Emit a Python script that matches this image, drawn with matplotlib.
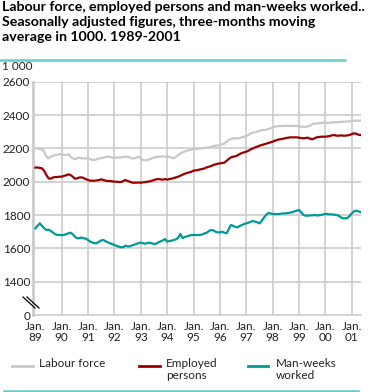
import numpy as np
import matplotlib
matplotlib.use("Agg")
import matplotlib.pyplot as plt
from matplotlib.lines import Line2D

plt.rcParams['font.family'] = ['Lato', 'DejaVu Sans']

# monthly values, Jan 1989 - May 2001 (in 1000)
labour_force = [
    2200, 2200, 2195, 2195, 2180, 2150, 2140, 2150, 2155, 2160, 2160, 2165,
    2165, 2160, 2160, 2165, 2150, 2140, 2135, 2140, 2145, 2140, 2140, 2140,
    2140, 2135, 2130, 2130, 2135, 2140, 2140, 2145, 2148, 2150, 2148, 2145,
    2145, 2145, 2145, 2145, 2148, 2150, 2148, 2145, 2140, 2140, 2145, 2150,
    2140, 2130, 2128, 2130, 2135, 2140, 2145, 2148, 2150, 2150, 2152, 2150,
    2150, 2148, 2145, 2140, 2150, 2160, 2170, 2176, 2182, 2186, 2190, 2192,
    2194, 2196, 2198, 2200, 2200, 2202, 2204, 2206, 2210, 2214, 2216, 2218,
    2220, 2224, 2228, 2240, 2250, 2256, 2260, 2260, 2260, 2262, 2266, 2270,
    2274, 2280, 2290, 2294, 2296, 2300, 2306, 2308, 2310, 2312, 2316, 2320,
    2326, 2330, 2332, 2334, 2334, 2334, 2336, 2334, 2334, 2334, 2336, 2334,
    2332, 2330, 2330, 2328, 2332, 2336, 2346, 2348, 2350, 2350, 2352, 2354,
    2354, 2352, 2354, 2356, 2356, 2356, 2358, 2358, 2360, 2360, 2362, 2362,
    2364, 2366, 2366, 2366, 2366,
]
employed = [
    2085, 2085, 2083, 2080, 2065, 2040, 2020, 2018, 2025, 2028, 2028, 2030,
    2030, 2035, 2038, 2044, 2040, 2030, 2018, 2020, 2025, 2026, 2022, 2015,
    2010, 2006, 2006, 2006, 2008, 2010, 2014, 2010, 2006, 2004, 2004, 2002,
    2000, 2000, 1998, 1998, 2004, 2010, 2004, 2000, 1994, 1994, 1994, 1995,
    1994, 1996, 1998, 2000, 2002, 2005, 2010, 2014, 2016, 2014, 2012, 2016,
    2012, 2016, 2018, 2022, 2026, 2030, 2036, 2042, 2048, 2052, 2056, 2060,
    2066, 2068, 2070, 2074, 2076, 2080, 2086, 2090, 2094, 2100, 2104, 2108,
    2110, 2112, 2114, 2125, 2136, 2146, 2150, 2152, 2158, 2166, 2172, 2176,
    2180, 2186, 2194, 2200, 2206, 2210, 2216, 2220, 2224, 2228, 2232, 2236,
    2240, 2246, 2250, 2254, 2256, 2258, 2262, 2264, 2266, 2266, 2266, 2266,
    2264, 2262, 2260, 2262, 2264, 2258, 2254, 2260, 2266, 2268, 2270, 2270,
    2270, 2272, 2274, 2278, 2280, 2276, 2276, 2278, 2276, 2276, 2278, 2280,
    2286, 2290, 2288, 2282, 2280,
]
man_weeks = [
    1720, 1735, 1750, 1735, 1720, 1710, 1712, 1705, 1695, 1685, 1680, 1680,
    1680, 1680, 1685, 1690, 1694, 1685, 1670, 1660, 1662, 1665, 1660, 1658,
    1650, 1640, 1635, 1630, 1632, 1640, 1648, 1650, 1642, 1636, 1630, 1625,
    1620, 1615, 1610, 1606, 1608, 1616, 1612, 1612, 1618, 1622, 1626, 1632,
    1634, 1630, 1628, 1632, 1634, 1630, 1626, 1628, 1636, 1642, 1648, 1656,
    1640, 1644, 1646, 1650, 1654, 1664, 1686, 1662, 1668, 1672, 1676, 1680,
    1680, 1680, 1680, 1680, 1684, 1690, 1694, 1704, 1710, 1708, 1700, 1696,
    1696, 1700, 1694, 1690, 1715, 1740, 1735, 1728, 1726, 1734, 1740, 1746,
    1750, 1754, 1760, 1764, 1760, 1756, 1750, 1765, 1784, 1800, 1812, 1810,
    1806, 1806, 1806, 1806, 1808, 1810, 1810, 1812, 1814, 1818, 1822, 1826,
    1830, 1816, 1800, 1796, 1796, 1798, 1798, 1800, 1798, 1798, 1800, 1804,
    1806, 1806, 1804, 1804, 1802, 1800, 1796, 1786, 1780, 1780, 1782, 1794,
    1810, 1822, 1826, 1822, 1818,
]
years = list(range(1989, 2002))
year_labels = ["Jan.\n%02d" % (y % 100) for y in years]
y_ticks = [1200, 1400, 1600, 1800, 2000, 2200, 2400, 2600]
y_labels = ["0", "1400", "1600", "1800", "2000", "2200", "2400", "2600"]

t = 1989 + np.arange(len(labour_force)) / 12.0

c_lab = "#c8c8c8"
c_emp = "#990000"
c_man = "#009a96"
c_grid = "#cccccc"
c_rule = "#66cccc"

W, H = 372, 392
fig = plt.figure(figsize=(W / 100, H / 100), dpi=100)
ax = fig.add_axes([33 / W, 1 - 315 / H, (361 - 33) / W, (315 - 81.7) / H])

for y in y_ticks[1:]:
    ax.axhline(y, color=c_grid, lw=1.2, zorder=1)
for y in years[1:]:
    ax.axvline(y, color=c_grid, lw=1.2, zorder=1)

ax.plot(t, labour_force, color=c_lab, lw=1.6, zorder=3)
ax.plot(t, employed, color=c_emp, lw=1.6, zorder=3)
ax.plot(t, man_weeks, color=c_man, lw=1.6, zorder=3)

ax.set_xlim(1988.91, 2001.35)
ax.set_ylim(1200, 2600)
ax.set_yticks(y_ticks)
ax.set_yticklabels(y_labels)
ax.set_xticks(years)
ax.set_xticklabels(year_labels, linespacing=1.1)
ax.tick_params(axis="both", labelsize=8.5, colors="#222222", length=0, pad=2)
ax.tick_params(axis="x", pad=4)
for s in ["top", "right"]:
    ax.spines[s].set_visible(False)
ax.spines["left"].set_color(c_grid)
ax.spines["left"].set_linewidth(2)
ax.spines["bottom"].set_color(c_grid)
ax.spines["bottom"].set_linewidth(1.2)

# axis break marks
for dx in (0, 4):
    fig.add_artist(Line2D([(23 + dx) / W, (35 + dx) / W], [1 - 297 / H, 1 - 308 / H],
                          color="black", lw=0.9))

fig.text(2 / W, 1 - 66 / H, "1 000", fontsize=8.5, color="#222222", va="center")

fig.text(2 / W, 1 - 1 / H,
         "Labour force, employed persons and man-weeks worked..\n"
         "Seasonally adjusted figures, three-months moving\n"
         "average in 1000. 1989-2001",
         fontsize=10.2, fontweight="bold", va="top", ha="left", linespacing=1.3)

fig.add_artist(Line2D([0, 345 / W], [1 - 60 / H] * 2, color=c_rule, lw=1.8))
fig.add_artist(Line2D([4 / W, 358 / W], [1 - 390.5 / H] * 2, color=c_rule, lw=1.8))

# legend
leg = [(12, 33, 39, c_lab, "Labour force"),
       (139, 160, 166, c_emp, "Employed\npersons"),
       (248, 268, 276, c_man, "Man-weeks\nworked")]
for x0, x1, xt, col, txt in leg:
    fig.add_artist(Line2D([x0 / W, x1 / W], [1 - 366 / H] * 2, color=col, lw=2))
    fig.text(xt / W, 1 - 358 / H, txt, fontsize=8.5, color="#222222",
             va="top", ha="left", linespacing=1.1)

fig.savefig("out.png", dpi=100)
